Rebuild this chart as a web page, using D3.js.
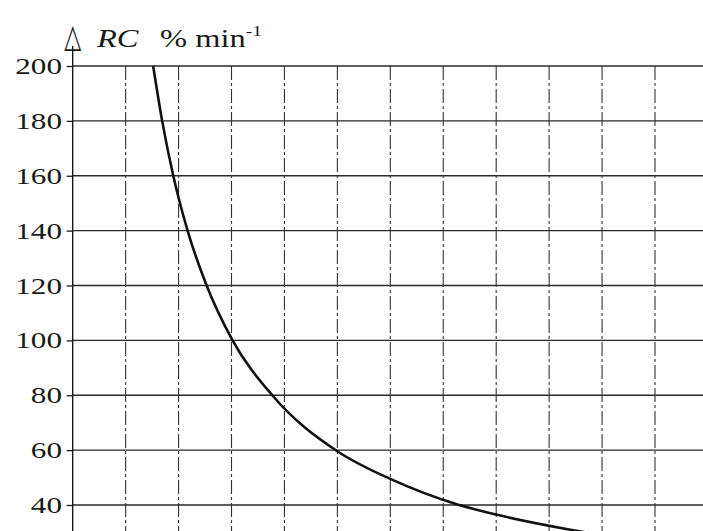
<!DOCTYPE html>
<html>
<head>
<meta charset="utf-8">
<script src="https://cdn.jsdelivr.net/npm/d3@7"></script>
<style>
  body { margin: 0; background: #fff; }
  text { font-family: "Liberation Serif", "Times New Roman", serif; fill: #1a1a1a; }
</style>
</head>
<body>
<div id="chart"></div>
<script>
// values (x in grid divisions, no x labels shown)
var curveX = [1.52, 1.69, 1.9, 2.17, 2.53, 3.02, 3.77, 5.0, 6.0, 7.3, 8.0, 9.4, 10.0];
var curveY = [200, 180, 160, 140, 120, 100, 80, 59.6, 49.5, 40, 36.5, 31, 29];
var yTicks = [200, 180, 160, 140, 120, 100, 80, 60, 40];
var xGrid = [1, 2, 3, 4, 5, 6, 7, 8, 9, 10, 11];
var yLabel = "RC";
var yUnit = "% min";

var width = 703;
var height = 531;
var stretch = 1.3; // scanned glyphs are wide

var svg = d3.select("#chart")
    .append("svg")
    .attr("width", width)
    .attr("height", height);

var xScale = d3.scaleLinear()
    .domain([0, 11])
    .range([72.7, 655]);

var yScale = d3.scaleLinear()
    .domain([40, 200])
    .range([505, 66]);

// horizontal grid
svg.append("g")
    .selectAll("line")
    .data(yTicks)
    .enter()
    .append("line")
    .attr("x1", xScale(0))
    .attr("x2", width)
    .attr("y1", function(d) { return yScale(d); })
    .attr("y2", function(d) { return yScale(d); })
    .attr("stroke", "#2a2a2a")
    .attr("stroke-width", 1.3);

// vertical grid, dash-dot
svg.append("g")
    .selectAll("line")
    .data(xGrid)
    .enter()
    .append("line")
    .attr("x1", function(d) { return xScale(d); })
    .attr("x2", function(d) { return xScale(d); })
    .attr("y1", yScale(200))
    .attr("y2", height)
    .attr("stroke", "#333")
    .attr("stroke-width", 1.1)
    .attr("stroke-dasharray", "14,3,3,3");

// y axis with ticks
var yAxis = d3.axisLeft(yScale)
    .tickValues(yTicks)
    .tickSize(6)
    .tickFormat("");

var axisG = svg.append("g")
    .attr("transform", `translate(${xScale(0)},0)`)
    .call(yAxis);
axisG.select(".domain").remove();
axisG.selectAll(".tick line").attr("stroke", "#1a1a1a").attr("stroke-width", 1.3);

svg.append("line")
    .attr("x1", xScale(0))
    .attr("x2", xScale(0))
    .attr("y1", 46)
    .attr("y2", height)
    .attr("stroke", "#1a1a1a")
    .attr("stroke-width", 1.4);

// tick labels
svg.append("g")
    .selectAll("text")
    .data(yTicks)
    .enter()
    .append("text")
    .attr("transform", function(d) {
        return `translate(62,${yScale(d) + 8}) scale(${stretch},1)`;
    })
    .attr("text-anchor", "end")
    .attr("font-size", 24)
    .text(function(d) { return d; });

// axis title
var title = svg.append("g");

title.append("text")
    .attr("transform", `translate(${xScale(0)},47) scale(0.85,1.25)`)
    .attr("text-anchor", "middle")
    .style("font-family", "DejaVu Sans")
    .attr("font-size", 26)
    .text("△");

title.append("text")
    .attr("transform", `translate(97,47) scale(${stretch},1)`)
    .attr("font-size", 25)
    .attr("font-style", "italic")
    .text(yLabel);

var unit = title.append("text")
    .attr("transform", `translate(160,47) scale(${stretch},1)`)
    .attr("font-size", 25);
unit.append("tspan").text(yUnit);
unit.append("tspan")
    .attr("dy", -11)
    .attr("font-size", 15)
    .text("-1");

// curve
var pts = curveX.map(function(x, i) { return [x, curveY[i]]; });

var line = d3.line()
    .x(function(d) { return xScale(d[0]); })
    .y(function(d) { return yScale(d[1]); })
    .curve(d3.curveMonotoneX);

svg.append("path")
    .datum(pts)
    .attr("d", line)
    .attr("fill", "none")
    .attr("stroke", "#111")
    .attr("stroke-width", 2.6);
</script>
</body>
</html>
